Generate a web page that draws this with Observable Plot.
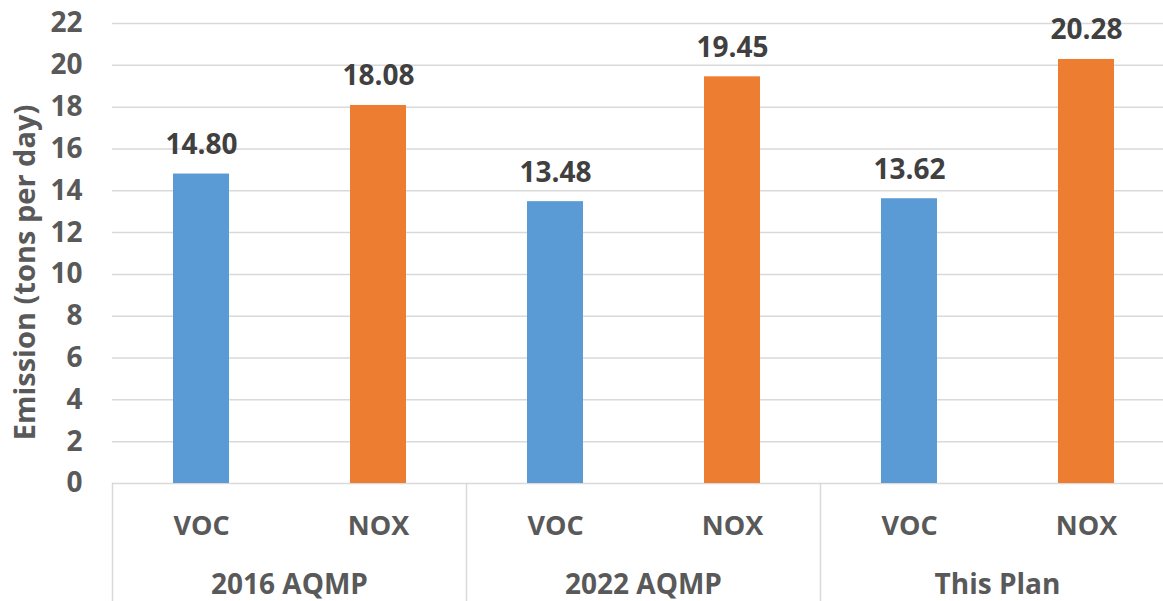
<!DOCTYPE html>
<html><head><meta charset="utf-8">
<script src="https://cdn.jsdelivr.net/npm/d3@7"></script>
<script src="https://cdn.jsdelivr.net/npm/@observablehq/plot@0.6"></script>
<style>body{margin:0;background:#fff;overflow:hidden}</style>
</head><body><div id="chart"></div>
<script>
const groups = ["2016 AQMP", "2022 AQMP", "This Plan"];
const pollutants = ["VOC", "NOX"];
const vocValues = [14.80, 13.48, 13.62];
const noxValues = [18.08, 19.45, 20.28];
const yTicks = [0, 2, 4, 6, 8, 10, 12, 14, 16, 18, 20, 22];
const colors = ["#5B9BD5", "#ED7D31"];
const yTitle = "Emission (tons per day)";

const data = groups.flatMap((g, i) => [
  {group: g, pollutant: "VOC", value: vocValues[i]},
  {group: g, pollutant: "NOX", value: noxValues[i]}
]);

const chart = Plot.plot({
  width: 1163, height: 601,
  marginLeft: 112, marginRight: -11, marginTop: 23, marginBottom: 118,
  style: {fontFamily: "'Open Sans', sans-serif", fontWeight: "bold", color: "#595959", background: "#fff", overflow: "hidden"},
  fx: {domain: groups, padding: 0, label: null},
  x: {domain: pollutants, paddingInner: 0.684, paddingOuter: 0.342, label: null},
  y: {domain: [0, 22], label: null},
  color: {domain: pollutants, range: colors},
  marks: [
    Plot.gridY(yTicks, {stroke: "#d9d9d9", strokeOpacity: 1, strokeWidth: 1.5}),
    Plot.frame({anchor: "left", stroke: "#d9d9d9", strokeOpacity: 1, strokeWidth: 1.5, insetTop: 460, insetBottom: -118}),
    Plot.barY(data, {fx: "group", x: "pollutant", y: "value", fill: "pollutant"}),
    Plot.text(data, {fx: "group", x: "pollutant", y: "value", text: d => d.value.toFixed(2), lineAnchor: "bottom", dy: -20, fontSize: 28, fill: "#404040"}),
    Plot.axisY(yTicks, {tickSize: 0, tickPadding: 30, fontSize: 28, label: null, fill: "#595959"}),
    Plot.text([yTitle], {fx: () => groups[0], text: d => d, frameAnchor: "left", textAnchor: "middle", rotate: -90, dx: -87, dy: 19, fontSize: 29, fill: "#595959"}),
    Plot.axisX({tickSize: 0, tickPadding: 32, fontSize: 27, label: null, fill: "#595959"}),
    Plot.axisFx({anchor: "bottom", tickSize: 0, tickPadding: 91, fontSize: 28, label: null, fill: "#595959"})
  ]
});
document.getElementById("chart").appendChild(chart);
</script>
</body></html>
